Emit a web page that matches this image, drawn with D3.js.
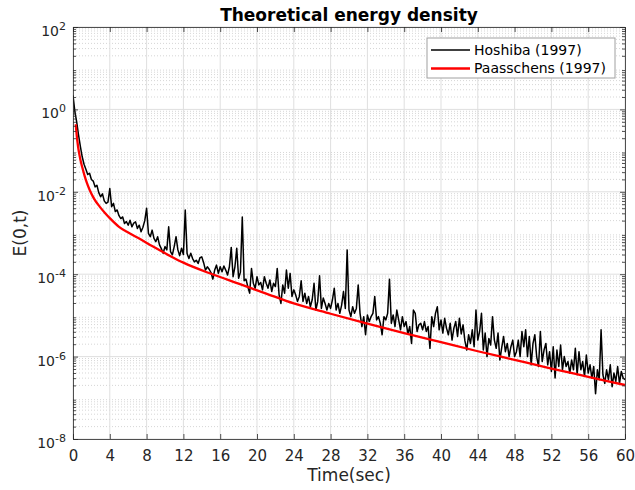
<!DOCTYPE html>
<html>
<head>
<meta charset="utf-8">
<script src="https://cdn.jsdelivr.net/npm/d3@7/dist/d3.min.js"></script>
<style>
  body { margin: 0; background: #fff; }
  svg { font-family: "DejaVu Sans", sans-serif; }
</style>
</head>
<body>
<div id="chart"></div>
<script>
// labels
const titleText = 'Theoretical energy density';
const xLabel = 'Time(sec)';
const yLabel = 'E(0,t)';
const xTicks = [0, 4, 8, 12, 16, 20, 24, 28, 32, 36, 40, 44, 48, 52, 56, 60];
const yTickExponents = [-8, -6, -4, -2, 0, 2];
const seriesNames = ['Hoshiba (1997)', 'Paasschens (1997)'];

// Hoshiba (1997): log10 E(0,t), one sample every 0.2 s from t = 0 to 60 s
const hoshibaStep = 0.2;
const hoshibaLog10 = [
  0.34, -0.05, -0.30, -0.62, -0.90, -1.15, -1.33, -1.45, -1.58, -1.55,
  -1.70, -1.74, -1.88, -1.84, -2.02, -2.12, -2.05, -2.22, -2.28, -2.25,
  -1.92, -2.36, -2.28, -2.48, -2.44, -2.58, -2.65, -2.61, -2.77, -2.72,
  -2.81, -2.69, -2.85, -2.76, -2.73, -2.89, -2.81, -2.97, -2.86, -2.70,
  -2.40, -3.01, -3.09, -2.93, -3.13, -3.21, -3.09, -3.29, -3.38, -3.49,
  -3.33, -3.41, -2.85, -3.45, -3.53, -3.33, -3.09, -3.41, -3.55, -3.37,
  -3.52,
  -2.44, -3.50, -3.62, -3.49, -3.62, -3.70, -3.66, -3.74, -3.60, -3.58,
  -3.72, -3.90, -3.82, -3.88, -3.96, -4.12, -3.90, -3.78, -3.98, -3.82,
  -3.94, -3.80, -3.90, -4.02, -3.82, -3.35, -4.06, -3.82, -3.37, -4.10,
  -3.95, -2.61, -4.16, -4.12, -4.30, -4.46, -3.86, -4.22, -4.34, -4.06,
  -4.26, -4.20, -4.38, -4.06, -4.22, -4.34, -4.14, -4.42, -4.22, -4.30,
  -3.86, -4.50, -4.71, -4.26, -4.46, -3.90, -4.34, -3.98, -4.54, -4.38,
  -4.50, -4.66, -4.54, -4.16, -4.66, -4.46, -4.71, -4.54, -4.79, -4.62,
  -4.22, -4.87, -4.66, -4.04, -4.83, -4.58, -4.71, -4.87, -4.71, -4.83,
  -4.62, -4.34, -4.87, -4.71, -4.95, -4.75, -4.42, -4.83, -3.41, -4.87,
  -5.03, -4.79, -4.95, -4.83, -4.26, -4.95, -5.27, -5.03, -5.47, -4.99,
  -5.15, -5.03, -4.95, -4.54, -5.11, -5.03, -5.19, -5.47, -5.03, -5.11,
  -4.95, -4.12, -5.19, -4.99, -5.27, -4.87, -5.11, -5.35, -5.03, -5.27,
  -5.15, -5.45, -5.27, -5.68, -4.87, -4.95, -5.39, -5.23, -5.19, -5.35,
  -5.15, -5.39, -5.27, -5.80, -5.03, -5.27, -4.95, -4.79, -5.35, -5.11,
  -5.43, -5.07, -5.31, -5.47, -5.19, -5.60, -5.31, -5.15, -5.51, -5.07,
  -5.45, -5.23, -5.62, -5.84, -5.47, -5.68, -5.35, -5.76, -4.87, -5.60,
  -5.39, -4.95, -5.84, -5.43, -6.00, -5.56, -5.72, -5.03, -5.60, -5.80,
  -5.43, -6.08, -5.78, -5.51, -5.88, -5.68, -6.00, -5.76, -5.60, -6.00,
  -5.88, -5.60, -6.00, -5.39, -5.76, -5.35, -6.00, -5.51, -6.20, -5.68,
  -5.47, -6.00, -6.24, -5.39, -6.12, -5.84, -5.68, -6.20, -5.88, -6.36,
  -5.76, -6.52, -5.84, -6.24, -5.72, -6.32, -6.00, -6.24, -6.12, -6.40,
  -6.08, -6.32, -5.80, -6.44, -5.88, -6.32, -6.12, -6.48, -5.96, -6.40,
  -6.20, -6.52, -6.24, -6.90, -6.32, -6.56, -5.35, -6.44, -6.65, -6.32,
  -6.56, -6.20, -6.73, -6.40, -6.60, -6.24, -6.65, -6.36, -6.52, -6.56
];

// Paasschens (1997): smooth theoretical curve, log10 E(0,t)
const paasschensTime = [0.3, 0.4, 0.55, 0.73, 1.0, 1.27, 1.5, 1.8, 2.3, 2.9, 3.5, 4, 5, 6, 7, 8.7, 10.5, 12, 15, 18, 21, 24, 28, 32, 36, 40, 44, 48, 52, 56, 60];
const paasschensLog10 = [-0.36, -0.62, -0.90, -1.14, -1.40, -1.62, -1.78, -1.95, -2.17, -2.36, -2.52, -2.64, -2.85, -2.99, -3.11, -3.33, -3.55, -3.72, -3.99, -4.23, -4.47, -4.71, -4.96, -5.20, -5.43, -5.65, -5.87, -6.08, -6.29, -6.49, -6.69];

const hoshiba = hoshibaLog10.map((v, i) => ({ t: i * hoshibaStep, e: Math.pow(10, v) }));
const paasschens = paasschensTime.map((t, i) => ({ t: t, e: Math.pow(10, paasschensLog10[i]) }));

function draw () {
  const svgWidth = 635;
  const svgHeight = 490;
  const margin = { top: 27, right: 10, bottom: 51, left: 73 };
  const width = svgWidth - margin.left - margin.right;
  const height = svgHeight - margin.top - margin.bottom;
  const axisColor = '#262626';

  const svg = d3.select('#chart')
    .append('svg')
    .attr('width', svgWidth)
    .attr('height', svgHeight);
  const g = svg.append('g')
    .attr('transform', `translate(${margin.left}, ${margin.top})`);

  const x = d3.scaleLinear().domain([0, 60]).range([0, width]);
  const y = d3.scaleLog().domain([1e-8, 1e2]).range([height, 0]);

  const majorY = yTickExponents.map(e => Math.pow(10, e));
  const minorY = [];
  for (let e = -8; e < 2; e++) {
    for (let m = 2; m <= 9; m++) minorY.push(m * Math.pow(10, e));
  }

  // grid
  g.append('g').selectAll('line')
    .data(minorY)
    .join('line')
    .attr('x1', 0).attr('x2', width)
    .attr('y1', d => y(d)).attr('y2', d => y(d))
    .attr('stroke', '#cccccc')
    .attr('stroke-width', 0.8)
    .attr('stroke-dasharray', '1,2');
  g.append('g').selectAll('line')
    .data(majorY)
    .join('line')
    .attr('x1', 0).attr('x2', width)
    .attr('y1', d => y(d)).attr('y2', d => y(d))
    .attr('stroke', '#dfdfdf');
  g.append('g').selectAll('line')
    .data(xTicks)
    .join('line')
    .attr('x1', d => x(d)).attr('x2', d => x(d))
    .attr('y1', 0).attr('y2', height)
    .attr('stroke', '#dfdfdf');

  // series
  svg.append('clipPath').attr('id', 'plot-clip')
    .append('rect').attr('width', width).attr('height', height);
  const plot = g.append('g').attr('clip-path', 'url(#plot-clip)');

  const line = d3.line()
    .x(d => x(d.t))
    .y(d => y(d.e));

  plot.append('path')
    .datum(hoshiba)
    .attr('fill', 'none')
    .attr('stroke', '#000000')
    .attr('stroke-width', 1.5)
    .attr('stroke-linejoin', 'round')
    .attr('d', line);

  plot.append('path')
    .datum(paasschens)
    .attr('fill', 'none')
    .attr('stroke', '#ff0000')
    .attr('stroke-width', 2.3)
    .attr('stroke-linejoin', 'round')
    .attr('d', line.curve(d3.curveMonotoneX));

  // axes
  const xAxis = g.append('g')
    .attr('transform', `translate(0, ${height})`)
    .call(d3.axisBottom(x).tickValues(xTicks).tickFormat(d3.format('d'))
      .tickSizeInner(-5).tickSizeOuter(0).tickPadding(11));
  g.append('g')
    .call(d3.axisTop(x).tickValues(xTicks).tickFormat('')
      .tickSizeInner(-5).tickSizeOuter(0));

  const yAxis = g.append('g')
    .call(d3.axisLeft(y).tickValues(majorY).tickFormat('')
      .tickSizeInner(-5).tickSizeOuter(0).tickPadding(7));
  g.append('g')
    .call(d3.axisLeft(y).tickValues(minorY).tickFormat('')
      .tickSizeInner(-3).tickSizeOuter(0))
    .select('.domain').remove();
  g.append('g')
    .attr('transform', `translate(${width}, 0)`)
    .call(d3.axisRight(y).tickValues(majorY).tickFormat('')
      .tickSizeInner(-5).tickSizeOuter(0));
  g.append('g')
    .attr('transform', `translate(${width}, 0)`)
    .call(d3.axisRight(y).tickValues(minorY).tickFormat('')
      .tickSizeInner(-3).tickSizeOuter(0))
    .select('.domain').remove();

  g.selectAll('.domain, .tick line')
    .attr('stroke', axisColor)
    .attr('stroke-width', 0.8);

  xAxis.selectAll('.tick text')
    .attr('fill', axisColor)
    .attr('font-size', 15)
    .attr('font-family', '"DejaVu Sans", sans-serif');

  // 10^n labels
  yAxis.selectAll('.tick text').each(function (d) {
    const t = d3.select(this)
      .attr('fill', axisColor)
      .attr('font-size', 14)
      .attr('font-family', '"DejaVu Sans", sans-serif')
      .attr('dy', '0.6em');
    t.text(null);
    t.append('tspan').text('10');
    t.append('tspan')
      .attr('font-size', 11)
      .attr('dy', -6)
      .text(Math.round(Math.log10(d)));
  });

  // labels
  svg.append('text')
    .attr('x', margin.left + width / 2)
    .attr('y', 21)
    .attr('text-anchor', 'middle')
    .attr('font-size', 17)
    .attr('font-weight', 'bold')
    .attr('fill', '#000')
    .text(titleText);

  svg.append('text')
    .attr('x', margin.left + width / 2)
    .attr('y', 481)
    .attr('text-anchor', 'middle')
    .attr('font-size', 17)
    .attr('fill', axisColor)
    .text(xLabel);

  svg.append('text')
    .attr('transform', `translate(26, ${margin.top + height / 2}) rotate(-90)`)
    .attr('text-anchor', 'middle')
    .attr('font-size', 17)
    .attr('fill', axisColor)
    .text(yLabel);

  // legend
  const legend = svg.append('g').attr('transform', 'translate(427, 38)');
  legend.append('rect')
    .attr('width', 188)
    .attr('height', 40)
    .attr('fill', '#fff')
    .attr('stroke', '#a0a0a0')
    .attr('stroke-width', 1);
  const colors = ['#000000', '#ff0000'];
  const widths = [1.3, 2.3];
  seriesNames.forEach((name, i) => {
    const row = legend.append('g').attr('transform', `translate(0, ${12 + i * 18.5})`);
    row.append('line')
      .attr('x1', 4).attr('x2', 43)
      .attr('stroke', colors[i])
      .attr('stroke-width', widths[i]);
    row.append('text')
      .attr('x', 47)
      .attr('dy', '0.35em')
      .attr('font-size', 14)
      .attr('fill', '#000')
      .text(name);
  });
}
draw();
</script>
</body>
</html>
